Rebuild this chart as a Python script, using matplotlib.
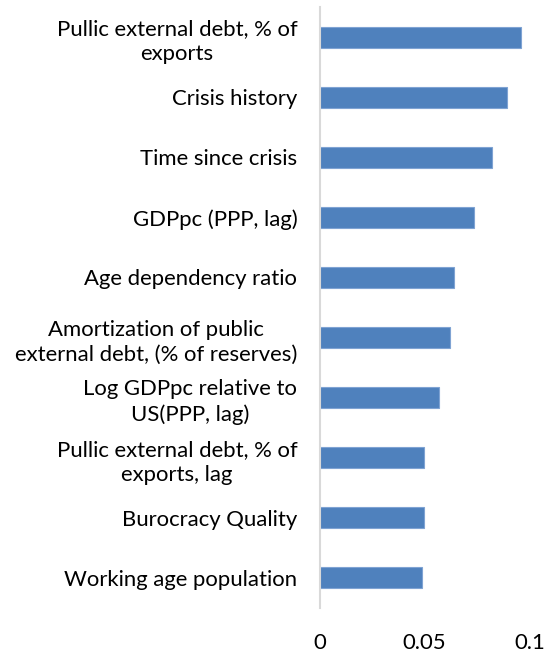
"""Horizontal bar chart of variable importance."""

import matplotlib
matplotlib.use("Agg")
import matplotlib.pyplot as plt

labels = [
    "Pullic external debt, % of\nexports",
    "Crisis history",
    "Time since crisis",
    "GDPpc (PPP, lag)",
    "Age dependency ratio",
    "Amortization of public\nexternal debt, (% of reserves)",
    "Log GDPpc relative to\nUS(PPP, lag)",
    "Pullic external debt, % of\nexports, lag",
    "Burocracy Quality",
    "Working age population",
]
importance = [0.0961, 0.0894, 0.0820, 0.0734, 0.0639, 0.0623, 0.0568, 0.0499, 0.0496, 0.0490]
xticks = [0, 0.05, 0.1]
xtick_labels = ["0", "0.05", "0.1"]

plt.rcParams["font.family"] = ["Lato", "DejaVu Sans"]

W, H = 547, 654
fig = plt.figure(figsize=(W / 100, H / 100), dpi=100)
ax = fig.add_axes([319.5 / W, (H - 608) / H, 210 / W, 601 / H])

ypos = list(range(len(labels)))
ax.barh(ypos, importance, height=0.35, color="#4f81bd",
        edgecolor="#7fa3d3", linewidth=0.8)
ax.set_ylim(len(labels) - 0.5, -0.5)
ax.set_xlim(0, 0.1)

ax.set_yticks(ypos)
ax.set_yticklabels(labels, fontsize=15.9, color="#000000")
for t in ax.get_yticklabels():
    t.set_multialignment("center")
    t.set_linespacing(1.32)
ax.set_xticks(xticks)
ax.set_xticklabels(xtick_labels, fontsize=15.9)
ax.tick_params(axis="y", length=0, pad=16)
ax.tick_params(axis="x", length=0, pad=18)

for side in ("top", "right", "bottom"):
    ax.spines[side].set_visible(False)
ax.spines["left"].set_color("#d9d9d9")
ax.spines["left"].set_linewidth(1.5)

fig.savefig("out.png", dpi=100)
